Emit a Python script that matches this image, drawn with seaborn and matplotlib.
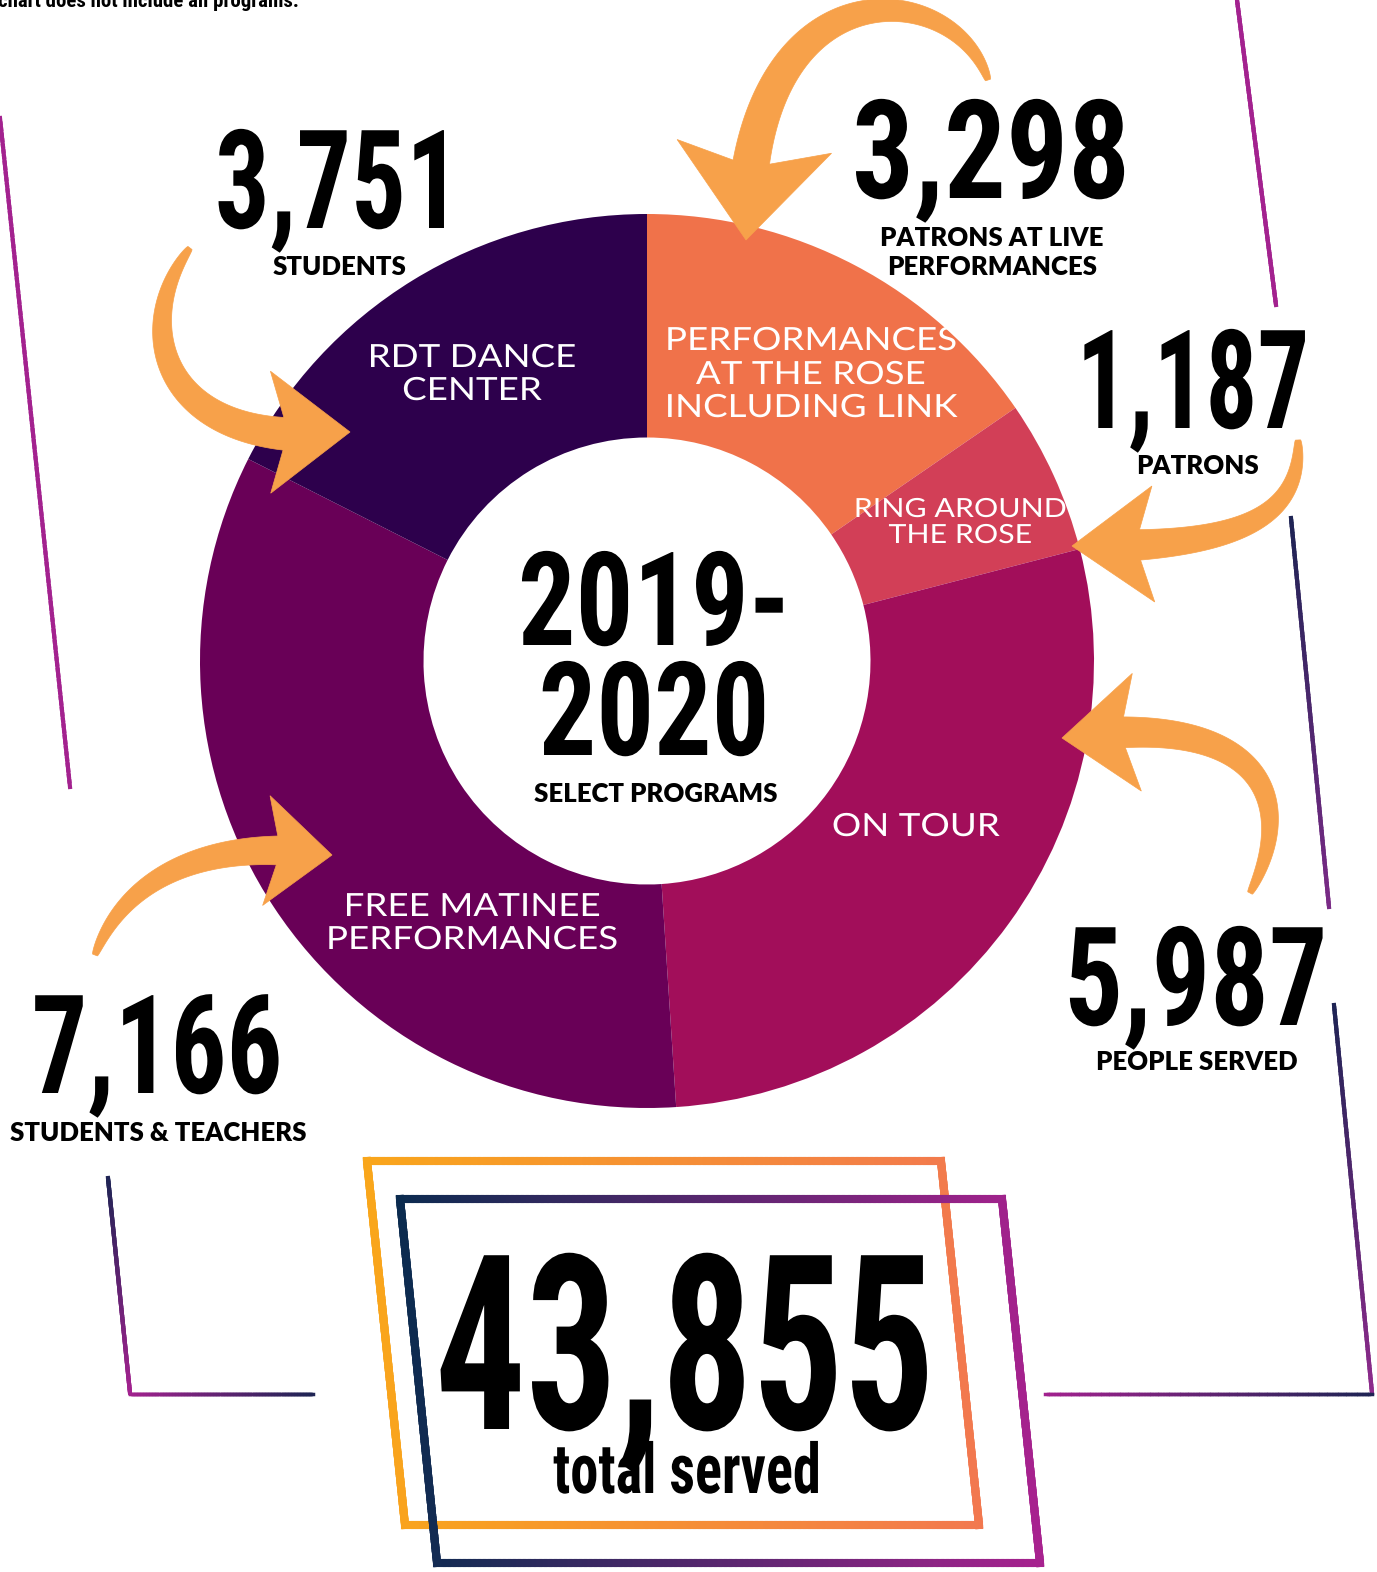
import numpy as np
import matplotlib
matplotlib.use("Agg")
import matplotlib.pyplot as plt
import seaborn as sns
from matplotlib import font_manager
from matplotlib.collections import LineCollection
from matplotlib.patches import Polygon
from matplotlib.colors import LinearSegmentedColormap
from matplotlib.transforms import Affine2D
from matplotlib.patheffects import AbstractPathEffect

# ---------------- data ----------------
programs = ["PERFORMANCES\nAT THE ROSE\nINCLUDING LINK", "RING AROUND\nTHE ROSE",
            "ON TOUR", "FREE MATINEE\nPERFORMANCES", "RDT DANCE\nCENTER"]
served = [3298, 1187, 5987, 7166, 3751]
units = ["PATRONS AT LIVE\nPERFORMANCES", "PATRONS", "PEOPLE SERVED",
         "STUDENTS & TEACHERS", "STUDENTS"]
slice_colors = ["#F0724A", "#D23F57", "#A20E5A", "#690057", "#2D004C"]
season = "2019-\n2020"
subtitle = "SELECT PROGRAMS"
total_value = "43,855"
total_label = "total served"
note = "chart does not include all programs."

# ---------------- style ----------------
sns.set_theme(style="white")
avail = {f.name for f in font_manager.fontManager.ttflist}
COND = next((n for n in ["Liberation Sans Narrow", "Roboto Condensed", "DejaVu Sans"] if n in avail), "DejaVu Sans")
LATO = "Lato" if "Lato" in avail else "DejaVu Sans"
plt.rcParams["font.family"] = [LATO, "DejaVu Sans"]

W, H = 1377, 1572
fig = plt.figure(figsize=(W / 100, H / 100), dpi=100)
fig.patch.set_facecolor("white")

# ---------------- donut ----------------
cx, cy, R = 647, 661, 447
pax = fig.add_axes([(cx - R) / W, 1 - (cy + R) / H, 2 * R / W, 2 * R / H])
pal = sns.color_palette(slice_colors)
wedges, _ = pax.pie(served, colors=pal, startangle=90, counterclock=False, radius=1,
                    wedgeprops=dict(width=0.5, edgecolor="none", linewidth=0))
pax.set_xlim(-1, 1)
pax.set_ylim(-1, 1)
pax.set_aspect("equal")
pax.axis("off")

# ---------------- overlay in pixel coordinates ----------------
ax = fig.add_axes([0, 0, 1, 1])
ax.set_xlim(0, W)
ax.set_ylim(H, 0)
ax.axis("off")
ax.patch.set_alpha(0)

MAG = "#A3228F"
NAVY = "#1E2454"
ORANGE = "#F7A14A"


class HScale(AbstractPathEffect):
    """Horizontally squeezes/stretches a text about its centre (text stays text)."""

    def __init__(self, sx, cxd):
        super().__init__()
        self.sx, self.cxd = sx, cxd

    def draw_path(self, renderer, gc, tpath, affine, rgbFace=None):
        t = affine + Affine2D().translate(-self.cxd, 0).scale(self.sx, 1).translate(self.cxd, 0)
        renderer.draw_path(gc, tpath, t, rgbFace)


renderer = fig.canvas.get_renderer()


def fit_width(t, target=None, sx=None):
    if sx is None:
        bb = t.get_window_extent(renderer=renderer)
        sx = target / bb.width
    cxd = ax.transData.transform(t.get_position())[0]
    t.set_path_effects([HScale(sx, cxd)])


def grad_edges(verts, c0, c1, lw, xr=None, closed=False, n=120, z=3):
    verts = np.asarray(verts, float)
    if closed:
        verts = np.vstack([verts, verts[:1]])
    cmap = LinearSegmentedColormap.from_list("g", [c0, c1])
    segs, cols = [], []
    total = np.sum(np.hypot(*np.diff(verts, axis=0).T))
    acc = 0.0
    for p, q in zip(verts[:-1], verts[1:]):
        L = np.hypot(*(q - p))
        t = np.linspace(0, 1, n + 1)
        pts = p + np.outer(t, q - p)
        for i in range(n):
            segs.append([pts[i], pts[i + 1]])
            if xr is not None:
                f = ((pts[i, 0] + pts[i + 1, 0]) / 2 - xr[0]) / (xr[1] - xr[0])
            else:
                f = (acc + L * (i + 0.5) / n) / total
            cols.append(cmap(np.clip(f, 0, 1)))
        acc += L
    ax.add_collection(LineCollection(segs, colors=cols, linewidths=lw,
                                     capstyle="projecting", zorder=z))


# decorative side lines
grad_edges([(0, 118), (70, 787)], MAG, MAG, 3.0)
grad_edges([(1237, 0), (1276, 305)], MAG, MAG, 3.0)
grad_edges([(1291, 518), (1329, 907)], NAVY, "#7A2A86", 3.0)
grad_edges([(1334, 1005), (1372, 1393)], NAVY, "#8E2A8C", 3.0)
grad_edges([(1045, 1394), (1372, 1394)], MAG, NAVY, 2.5)
grad_edges([(108, 1178), (130, 1393)], NAVY, MAG, 3.0)
grad_edges([(130, 1394), (313, 1394)], MAG, NAVY, 2.5)

# total frames
grad_edges([(367, 1161), (941, 1161), (979, 1525), (405, 1525)], "#F9A61B", "#F2784F",
           5.8, xr=(367, 979), closed=True, z=3)
grad_edges([(400, 1199), (1002, 1199), (1040, 1563), (437, 1563)], "#0B2B4F", "#A8228F",
           5.8, xr=(400, 1040), closed=True, z=4)


# hand-drawn style arrows along cubic curves
def bezier(P, t):
    P = np.asarray(P, float)
    t = t[:, None]
    return ((1 - t) ** 3 * P[0] + 3 * (1 - t) ** 2 * t * P[1]
            + 3 * (1 - t) * t ** 2 * P[2] + t ** 3 * P[3])


def hand_arrow(P, w0, w1, hl, hw):
    pts = bezier(P, np.linspace(0, 1, 500))
    s = np.concatenate([[0], np.cumsum(np.hypot(*np.diff(pts, axis=0).T))])
    L = s[-1]
    tip = pts[-1]
    base = pts[np.searchsorted(s, L - hl)]
    d = (tip - base) / np.hypot(*(tip - base))
    n = np.array([-d[1], d[0]])
    head = [tip, base + n * hw / 2, base + d * hl * 0.22, base - n * hw / 2]
    m = np.searchsorted(s, L - hl * 0.55)
    bp = pts[:m + 1]
    tg = np.gradient(bp, axis=0)
    tg /= np.hypot(tg[:, 0], tg[:, 1])[:, None]
    nr = np.column_stack([-tg[:, 1], tg[:, 0]])
    frac = s[:m + 1] / s[m]
    w = w0 + (w1 - w0) * frac ** 0.6
    left = bp + nr * (w / 2)[:, None]
    right = bp - nr * (w / 2)[:, None]
    ax.add_patch(Polygon(np.vstack([left, right[::-1]]), closed=True,
                         fc=ORANGE, ec=ORANGE, lw=0.5, zorder=6))
    ax.add_patch(Polygon(head, closed=True, fc=ORANGE, ec=ORANGE, lw=0.5, zorder=6))


arrow_curves = [
    ([(190, 248), (128, 330), (165, 455), (350, 432)], 5, 34, 80, 122),
    ([(988, 80), (955, -25), (742, -40), (746, 240)], 5, 38, 95, 155),
    ([(1298, 440), (1302, 525), (1225, 548), (1072, 546)], 5, 32, 82, 116),
    ([(1250, 893), (1300, 800), (1262, 708), (1062, 738)], 5, 32, 76, 118),
    ([(95, 955), (128, 868), (222, 838), (332, 855)], 5, 30, 66, 110),
]
for P, w0, w1, hl, hw in arrow_curves:
    hand_arrow(P, w0, w1, hl, hw)


# ---------------- texts ----------------
def lines(x, baselines, txt, sx=None, clip=None, **kw):
    for yb, t in zip(baselines, txt.split("\n")):
        tt = ax.text(x, yb, t, ha="center", va="baseline", **kw)
        if sx is not None:
            fit_width(tt, sx=sx)
        if clip is not None:
            tt.set_clip_path(clip)


num_xy = [(991, 198), (1193, 428), (1196, 1025), (157, 1093), (338, 228)]
num_w = [278, 233, 263, 251, 246]
unit_xy = [(992, (246, 275)), (1197, (474,)), (1197, (1070,)), (158, (1141,)), (340, (275,))]
wedge_xy = [(811, (350, 384, 417), 23), (960, (517, 543), 19), (916, (836,), 23),
            (472, (916, 949), 23), (472, (367, 400), 23)]

for i, v in enumerate(served):
    x, y = num_xy[i]
    t = ax.text(x, y, f"{v:,}", ha="center", va="baseline", family=COND,
                fontweight="bold", fontsize=99, color="black", zorder=7)
    fit_width(t, num_w[i])
    ux, ub = unit_xy[i]
    lines(ux, ub, units[i], family=[LATO, "DejaVu Sans"], fontweight="heavy",
          fontsize=18.5, color="black", zorder=7)
    wx, wb, fs = wedge_xy[i]
    lines(wx, wb, programs[i], sx=1.15, clip=wedges[i], family=[LATO, "DejaVu Sans"],
          fontsize=fs, color="white", zorder=5)

# center of donut: one two-line text, baselines at 645 and 755
first_base, second_base, season_x = 645, 755, 654


def season_text(ls, y):
    return ax.text(season_x, y, season, ha="center", va="baseline", multialignment="center",
                   family=COND, fontweight="bold", fontsize=94, color="black",
                   linespacing=ls, zorder=7)


def layout(t):
    _, info, _ = t._get_layout(renderer)
    return info


probe = season_text(1.0, first_base)
i1 = layout(probe)
sp1 = i1[0][3] - i1[1][3]
probe.set_linespacing(2.0)
i2 = layout(probe)
sp2 = i2[0][3] - i2[1][3]
probe.remove()
ls = 1.0 + (second_base - first_base - sp1) / (sp2 - sp1)
t = season_text(ls, first_base)
info = layout(t)
t.set_y(first_base + info[0][3])
w_first = info[0][1][0]
fit_width(t, sx=272 / w_first)

ax.text(656, 802, subtitle, ha="center", va="baseline", family=[LATO, "DejaVu Sans"],
        fontweight="heavy", fontsize=18.5, color="black", zorder=7)

# total
t = ax.text(685, 1429, total_value, ha="center", va="baseline", family=COND,
            fontweight="bold", fontsize=176, color="black", zorder=7)
fit_width(t, 500)
t = ax.text(687, 1493, total_label, ha="center", va="baseline", family=COND,
            fontweight="bold", fontsize=50, color="black", zorder=7)
fit_width(t, 268)

# top note (cut off by the top edge, as in the original)
ax.text(-2, 7, note, ha="left", va="baseline", family=COND, fontweight="bold",
        fontsize=15, color="black", zorder=7)

fig.savefig("out.png", dpi=100, facecolor="white")
